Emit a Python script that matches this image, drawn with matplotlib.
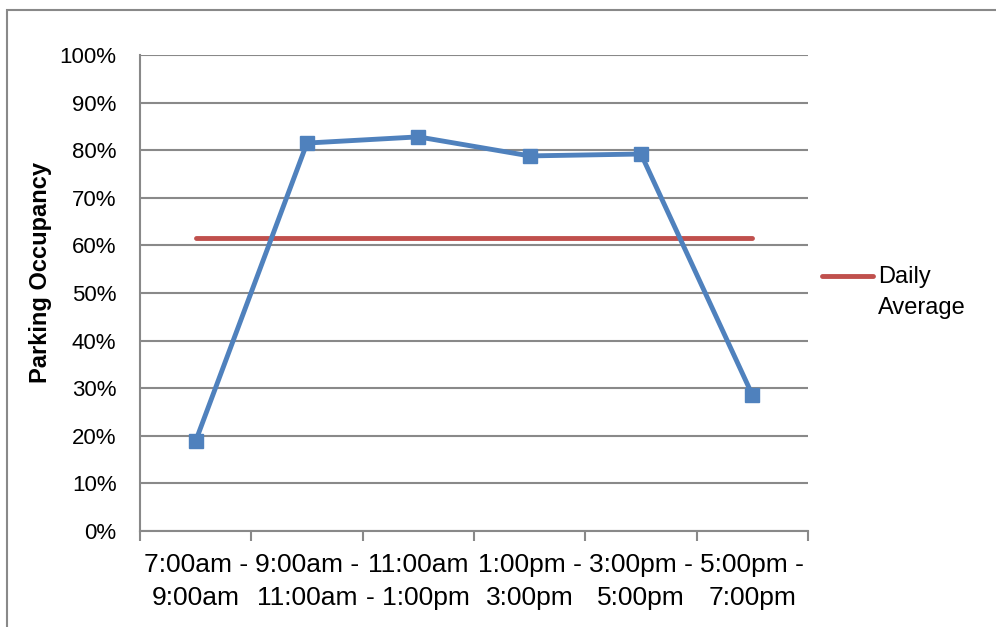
import matplotlib.pyplot as plt
from matplotlib.patches import Rectangle
from matplotlib.lines import Line2D

# data
periods = ["7:00am -\n9:00am", "9:00am -\n11:00am", "11:00am\n- 1:00pm",
           "1:00pm -\n3:00pm", "3:00pm -\n5:00pm", "5:00pm -\n7:00pm"]
occupancy = [18.9, 81.5, 82.8, 78.8, 79.2, 28.6]
daily_average = 61.6

colorBlue = "#4F81BD"
colorRed = "#C0504D"
colorGrid = "#898989"

plt.rcParams['font.family'] = ['Liberation Sans', 'DejaVu Sans']

W, H = 996, 627
fig = plt.figure(figsize=(W / 100, H / 100), dpi=100)
ax = fig.add_axes([140 / W, 1 - 531 / H, 668 / W, 476 / H])

x = list(range(len(periods)))
ax.plot(x, occupancy, color=colorBlue, lw=3.5, marker='s', markersize=10.5,
        solid_joinstyle='round', zorder=3)
ax.plot(x, [daily_average] * len(x), color=colorRed, lw=3.5,
        solid_capstyle='round', zorder=2)

ax.set_xlim(-0.5, len(periods) - 0.5)
ax.set_ylim(0, 100)
ax.set_yticks(range(0, 101, 10))
ax.set_yticklabels([f"{v}%" for v in range(0, 101, 10)], fontsize=16)
ax.yaxis.grid(True, color=colorGrid, lw=1.5)
ax.set_axisbelow(True)
ax.tick_params(axis='y', length=0, pad=17)

# category boundary ticks
ax.set_xticks([i - 0.5 for i in range(len(periods) + 1)])
ax.set_xticklabels([])
ax.set_xticks(x, minor=True)
ax.set_xticklabels(periods, minor=True, fontsize=19, linespacing=1.45)
ax.tick_params(axis='x', which='major', length=7, width=1.5, color=colorGrid, direction='out')
ax.tick_params(axis='x', which='minor', length=0, pad=16)

for s in ['top', 'right']:
    ax.spines[s].set_visible(False)
for s in ['left', 'bottom']:
    ax.spines[s].set_color(colorGrid)
    ax.spines[s].set_linewidth(1.5)

fig.text(40 / W, 1 - 273 / H, "Parking Occupancy", rotation=90, fontsize=17,
         fontweight='bold', ha='center', va='center')

# legend, drawn by hand so the key sits on the first text line
fig.add_artist(Line2D([822 / W, 873 / W], [1 - 276 / H, 1 - 276 / H], color=colorRed,
                      lw=3.5, solid_capstyle='round', transform=fig.transFigure))
fig.text(878 / W, 1 - 277 / H, "Daily", fontsize=17, ha='left', va='center')
fig.text(878 / W, 1 - 308 / H, "Average", fontsize=17, ha='left', va='center')

fig.patches.append(Rectangle((7 / W, -0.05), 1.1, 1 - 10 / H + 0.05, transform=fig.transFigure,
                             fill=False, edgecolor=colorGrid, lw=1.5))

fig.savefig("out.png", dpi=100)
